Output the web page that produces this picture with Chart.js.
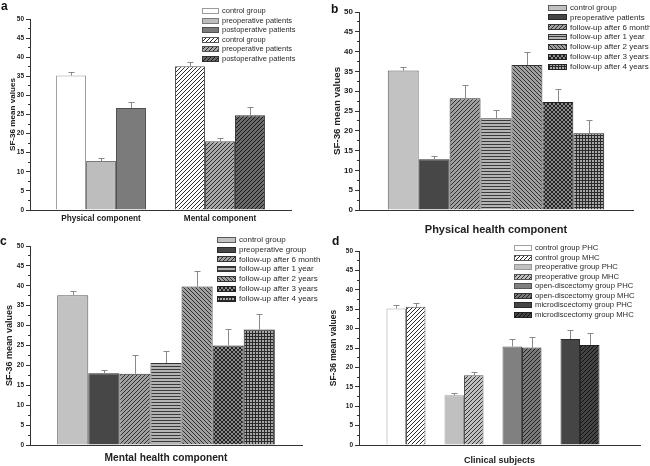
<!DOCTYPE html>
<html>
<head>
<meta charset="utf-8">
<script src="https://cdn.jsdelivr.net/npm/chart.js@4"></script>
<style>
  body { margin: 0; background: #fff; }
  #wrap { position: relative; width: 650px; height: 466px; overflow: hidden; font-family: "Liberation Sans", Arial, sans-serif; }
  #wrap canvas { position: absolute; left: 0; top: 0; }
  .tag { position: absolute; font-weight: bold; font-size: 12px; line-height: 12px; color: #111; }
</style>
</head>
<body>
<div id="wrap">
  <canvas id="chartA" width="650" height="466"></canvas>
  <canvas id="chartB" width="650" height="466"></canvas>
  <canvas id="chartC" width="650" height="466"></canvas>
  <canvas id="chartD" width="650" height="466"></canvas>
  <div class="tag" style="left:1px;top:0px">a</div>
  <div class="tag" style="left:331px;top:3px">b</div>
  <div class="tag" style="left:0px;top:235px">c</div>
  <div class="tag" style="left:332px;top:235px">d</div>
</div>
<script>
// ---- data ----
const aCategories = ["Physical component", "Mental component"];
const aLabels = ["control group", "preoperative patients", "postoperative patients",
                 "control group", "preoperative patients", "postoperative patients"];
const aPhysical = [35.2, 12.8, 26.7];
const aPhysicalErr = [36.1, 13.5, 28.2];
const aMental = [37.6, 18.0, 24.8];
const aMentalErr = [38.7, 18.9, 26.9];

const bLabels = ["control group", "preoperative patients", "follow-up after 6 month",
                 "follow-up after 1 year", "follow-up after 2 years", "follow-up after 3 years",
                 "follow-up after 4 years"];
const bValues = [35.2, 12.8, 28.2, 23.2, 36.6, 27.3, 19.4];
const bErrTop = [36.2, 13.6, 31.6, 25.3, 39.9, 30.6, 22.8];

const cLabels = ["control group", "preoperative group", "follow-up after 6 month",
                 "follow-up after 1 year", "follow-up after 2 years", "follow-up after 3 years",
                 "follow-up after 4 years"];
const cValues = [37.6, 18.0, 17.9, 20.6, 39.8, 25.0, 29.0];
const cErrTop = [38.7, 18.9, 22.6, 23.5, 43.6, 29.1, 33.0];

const dGroups = ["control", "preoperative", "open-discectomy", "microdiscectomy"];
const dLabels = ["control group PHC", "control group MHC", "preoperative group PHC",
                 "preoperative group MHC", "open-discectomy group PHC", "open-discectomy group MHC",
                 "microdiscectomy group PHC", "microdiscectomy group MHC"];
const dValues = [35.2, 35.6, 12.8, 18.0, 25.4, 25.1, 27.3, 25.8];
const dErrTop = [36.2, 36.7, 13.5, 18.8, 27.4, 27.8, 29.7, 28.8];

const FONT = "'Liberation Sans', Arial, sans-serif";

// small fill patterns like the Origin hatches
function makePattern(bg, kind, fg) {
  const size = (kind === "horiz" || kind === "grid") ? 3 : 4;
  const c = document.createElement("canvas");
  c.width = size; c.height = size;
  const g = c.getContext("2d");
  g.fillStyle = bg;
  g.fillRect(0, 0, size, size);
  g.fillStyle = fg;
  for (let i = 0; i < size; i++) {
    if (kind === "fwd") g.fillRect(i, size - 1 - i, 1, 1);
    if (kind === "back") g.fillRect(i, i, 1, 1);
    if (kind === "horiz") g.fillRect(i, 0, 1, 1);
    if (kind === "grid") { g.fillRect(i, 0, 1, 1); g.fillRect(0, i, 1, 1); }
    if (kind === "check") { g.fillRect(i, i, 1, 1); g.fillRect(i, size - 1 - i, 1, 1); }
  }
  return g.createPattern(c, "repeat");
}

// upper error bars with a small cap
const errorBars = {
  id: "errorBars",
  afterDatasetsDraw(chart) {
    const { ctx } = chart;
    const y = chart.scales.y;
    ctx.save();
    ctx.strokeStyle = "#8a8a8a";
    ctx.lineWidth = 1;
    chart.data.datasets.forEach((ds, di) => {
      const meta = chart.getDatasetMeta(di);
      meta.data.forEach((bar, i) => {
        const top = ds.errTop[i];
        if (top == null) return;
        const x = Math.round(bar.x) + 0.5;
        const yt = Math.round(y.getPixelForValue(top)) + 0.5;
        ctx.beginPath();
        ctx.moveTo(x, bar.y);
        ctx.lineTo(x, yt);
        ctx.moveTo(x - 3, yt);
        ctx.lineTo(x + 3, yt);
        ctx.stroke();
      });
    });
    ctx.restore();
  },
};

// single-column legend in the top right corner of each panel
const boxLegend = {
  id: "boxLegend",
  afterDraw(chart, args, opts) {
    const ctx = chart.ctx;
    ctx.save();
    ctx.font = opts.size + "px " + FONT;
    ctx.textBaseline = "middle";
    chart.data.datasets.forEach((ds, i) => {
      const cy = opts.y + i * opts.rowH;
      const top = Math.round(cy - opts.boxH / 2);
      ctx.fillStyle = ds.backgroundColor;
      ctx.fillRect(opts.x, top, opts.boxW, opts.boxH);
      ctx.strokeStyle = ds.borderColor;
      ctx.lineWidth = 1;
      ctx.strokeRect(opts.x + 0.5, top + 0.5, opts.boxW - 1, opts.boxH - 1);
      ctx.fillStyle = "#2a2a2a";
      ctx.fillText(ds.label, opts.x + opts.boxW + 3, cy);
    });
    ctx.restore();
  },
};

function yAxis(width, tickSize, titleSize, tickLen) {
  return {
    min: 0,
    max: 50,
    ticks: {
      stepSize: 2.5,
      autoSkip: false,
      padding: 2,
      color: "#222",
      font: { family: FONT, size: tickSize, weight: "bold" },
      callback: (v) => (Math.abs(v % 5) < 1e-6 ? v : ""),
    },
    grid: {
      drawOnChartArea: false,
      tickLength: tickLen,
      tickColor: "#333",
      tickBorderDash: (ctx) => (ctx.tick && Math.abs(ctx.tick.value % 5) > 1e-6 ? [0, 2, 10, 0] : []),
    },
    border: { color: "#333", width: 1 },
    title: {
      display: true,
      text: "SF-36 mean values",
      color: "#222",
      font: { family: FONT, size: titleSize, weight: "bold" },
      padding: { top: 4, bottom: 0 },
    },
    afterFit: (s) => { s.width = width; },
  };
}

function baseOptions(padding, scales, legend) {
  return {
    responsive: false,
    animation: false,
    layout: { padding },
    scales,
    plugins: {
      legend: { display: false },
      tooltip: { enabled: false },
      boxLegend: legend,
    },
  };
}

// ---- panel a ----
const aFills = [
  ["#ffffff", "#9a9a9a"],
  ["#bdbdbd", "#7a7a7a"],
  ["#7b7b7b", "#505050"],
  [makePattern("#ffffff", "fwd", "#2a2a2a"), "#555555"],
  [makePattern("#a8a8a8", "fwd", "#2a2a2a"), "#555555"],
  [makePattern("#6a6a6a", "fwd", "#1a1a1a"), "#333333"],
];
const aDatasets = aLabels.map((label, i) => {
  const phys = i < 3;
  const v = phys ? aPhysical[i] : aMental[i - 3];
  const e = phys ? aPhysicalErr[i] : aMentalErr[i - 3];
  return {
    label,
    data: phys ? [{ x: 1, y: v }, { x: 2, y: null }] : [{ x: 1, y: null }, { x: 2, y: v }],
    errTop: phys ? [e, null] : [null, e],
    backgroundColor: aFills[i][0],
    borderColor: aFills[i][1],
    borderWidth: 1,
    skipNull: true,
    categoryPercentage: 0.756,
    barPercentage: 1,
  };
});
new Chart(document.getElementById("chartA"), {
  type: "bar",
  data: { datasets: aDatasets },
  options: baseOptions(
    { left: 4, top: 19, right: 359, bottom: 236 },
    {
      x: {
        type: "linear",
        min: 0.403,
        max: 2.597,
        offset: false,
        afterBuildTicks: (s) => { s.ticks = aCategories.map((c, i) => ({ value: i + 1 })); },
        ticks: {
          padding: 4,
          maxRotation: 0,
          minRotation: 0,
          color: "#222",
          font: { family: FONT, size: 8.2, weight: "bold" },
          callback: (v) => aCategories[Math.round(v) - 1] || "",
        },
        grid: { display: false, drawTicks: false, offset: false },
        border: { color: "#333", width: 1 },
        afterFit: (s) => { s.height = 20; },
      },
      y: yAxis(26, 6.5, 8.1, 4),
    },
    { x: 202, y: 11, rowH: 9.5, boxW: 17, boxH: 6, size: 7.5 }
  ),
  plugins: [errorBars, boxLegend],
});

// ---- panels b and c ----
function followFills() {
  return [
    ["#c2c2c2", "#5a5a5a"],
    ["#474747", "#2a2a2a"],
    [makePattern("#a0a0a0", "fwd", "#303030"), "#333333"],
    [makePattern("#b4b4b4", "horiz", "#3a3a3a"), "#333333"],
    [makePattern("#a0a0a0", "back", "#303030"), "#333333"],
    [makePattern("#8a8a8a", "check", "#222222"), "#222222"],
    [makePattern("#a8a8a8", "grid", "#2a2a2a"), "#222222"],
  ];
}

function followChart(id, labels, values, errTop, title, cfg) {
  const fills = followFills();
  const datasets = labels.map((label, i) => ({
    label,
    data: [values[i]],
    errTop: [errTop[i]],
    backgroundColor: fills[i][0],
    borderColor: fills[i][1],
    borderWidth: 1,
    categoryPercentage: cfg.catPct,
    barPercentage: 1,
  }));
  new Chart(document.getElementById(id), {
    type: "bar",
    data: { labels: [""], datasets },
    options: baseOptions(
      cfg.padding,
      {
        x: {
          ticks: { display: false },
          grid: { display: false },
          border: { color: "#333", width: 1 },
          title: {
            display: true,
            text: title,
            color: "#222",
            font: { family: FONT, size: cfg.titleSize, weight: "bold" },
            padding: { top: 0, bottom: 0 },
          },
          afterFit: (s) => { s.height = cfg.xHeight; },
        },
        y: yAxis(cfg.yWidth, cfg.tickSize, cfg.yTitleSize, 4),
      },
      cfg.legend
    ),
    plugins: [errorBars, boxLegend],
  });
}

followChart("chartB", bLabels, bValues, bErrTop, "Physical health component", {
  padding: { left: 327, top: 12, right: 17, bottom: 229 },
  catPct: 0.79,
  titleSize: 11,
  xHeight: 27,
  yWidth: 32,
  tickSize: 8,
  yTitleSize: 9.8,
  legend: { x: 548, y: 7.5, rowH: 9.9, boxW: 19, boxH: 6, size: 8 },
});

followChart("chartC", cLabels, cValues, cErrTop, "Mental health component", {
  padding: { left: 0, top: 246, right: 348, bottom: 2 },
  catPct: 0.80,
  titleSize: 10.2,
  xHeight: 19,
  yWidth: 30,
  tickSize: 6.5,
  yTitleSize: 9,
  legend: { x: 217, y: 239.7, rowH: 9.8, boxW: 19, boxH: 6, size: 8 },
});

// ---- panel d ----
const dFills = [
  ["#ffffff", "#a0a0a0"],
  [makePattern("#ffffff", "fwd", "#2a2a2a"), "#555555"],
  ["#c0c0c0", "#999999"],
  [makePattern("#c0c0c0", "fwd", "#333333"), "#555555"],
  ["#808080", "#555555"],
  [makePattern("#7a7a7a", "fwd", "#222222"), "#333333"],
  ["#454545", "#2a2a2a"],
  [makePattern("#454545", "fwd", "#111111"), "#222222"],
];
const dDatasets = dLabels.map((label, i) => {
  const g = Math.floor(i / 2);
  return {
    label,
    data: dGroups.map((name, j) => ({ x: j + 1, y: j === g ? dValues[i] : null })),
    errTop: dGroups.map((name, j) => (j === g ? dErrTop[i] : null)),
    backgroundColor: dFills[i][0],
    borderColor: dFills[i][1],
    borderWidth: 1,
    skipNull: true,
    categoryPercentage: 0.672,
    barPercentage: 1,
  };
});
new Chart(document.getElementById("chartD"), {
  type: "bar",
  data: { datasets: dDatasets },
  options: baseOptions(
    { left: 325, top: 251, right: 10, bottom: 0 },
    {
      x: {
        type: "linear",
        min: 0.19,
        max: 5.034,
        offset: false,
        afterBuildTicks: (s) => { s.ticks = dGroups.map((g, i) => ({ value: i + 1 })); },
        ticks: { display: false },
        grid: { display: false, offset: false },
        border: { color: "#333", width: 1 },
        title: {
          display: true,
          text: "Clinical subjects",
          color: "#222",
          font: { family: FONT, size: 9, weight: "bold" },
          padding: { top: 0, bottom: 0 },
        },
        afterFit: (s) => { s.height = 21; },
      },
      y: yAxis(34, 6.5, 8.5, 4),
    },
    { x: 514, y: 248, rowH: 9.55, boxW: 18, boxH: 6, size: 7.7 }
  ),
  plugins: [errorBars, boxLegend],
});
</script>
</body>
</html>
